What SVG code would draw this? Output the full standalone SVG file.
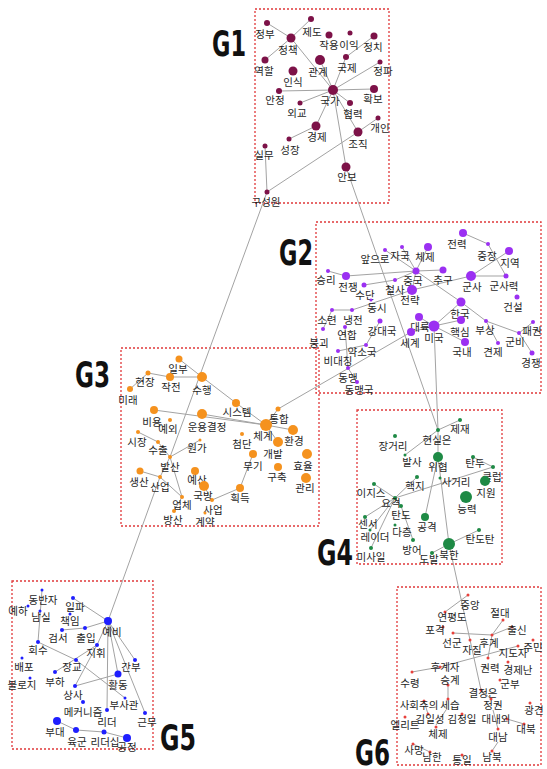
<svg xmlns="http://www.w3.org/2000/svg" width="547" height="769" viewBox="0 0 547 769">
<style>
text{font-family:"Noto Sans CJK KR","Noto Sans",sans-serif;font-size:10.5px;fill:#1e1e1e;text-anchor:middle}
.box{fill:none;stroke:#e0383a;stroke-width:1.3;stroke-dasharray:2 2}
.gl{font-family:"Liberation Sans Narrow","DejaVu Sans Condensed","Liberation Sans",sans-serif;font-stretch:condensed;font-weight:bold;font-size:35px;fill:#111;text-anchor:start}
#edges line{stroke:#a3a3a3;stroke-width:1}
.g1 circle{fill:#7d1248}.g2 circle{fill:#9b30f2}.g3 circle{fill:#f5921e}.g4 circle{fill:#1e8a45}.g5 circle{fill:#1f1fff}.g6 circle{fill:#e8413c}
</style>
<rect width="547" height="769" fill="#fff"/>
<g id="boxes">
<rect class="box" x="255" y="9" width="134" height="194"/>
<rect class="box" x="316" y="222" width="225" height="171"/>
<rect class="box" x="121" y="348" width="198" height="178"/>
<rect class="box" x="357" y="410" width="145" height="154"/>
<rect class="box" x="12" y="581" width="141" height="168"/>
<rect class="box" x="397" y="587" width="144" height="178"/>
</g>
<g id="group-labels">
<text class="gl" x="212" y="56" textLength="34" lengthAdjust="spacingAndGlyphs">G1</text>
<text class="gl" x="279" y="265" textLength="34" lengthAdjust="spacingAndGlyphs">G2</text>
<text class="gl" x="75" y="387" textLength="35" lengthAdjust="spacingAndGlyphs">G3</text>
<text class="gl" x="317" y="565" textLength="36" lengthAdjust="spacingAndGlyphs">G4</text>
<text class="gl" x="160" y="750" textLength="36" lengthAdjust="spacingAndGlyphs">G5</text>
<text class="gl" x="355" y="765" textLength="35" lengthAdjust="spacingAndGlyphs">G6</text>
</g>
<g id="edges">
<line x1="267" y1="23" x2="291" y2="38"/><line x1="311" y1="19" x2="291" y2="38"/><line x1="265" y1="60" x2="291" y2="38"/><line x1="291" y1="38" x2="333" y2="90"/><line x1="320" y1="60" x2="333" y2="90"/><line x1="346" y1="57" x2="333" y2="90"/><line x1="380" y1="62" x2="333" y2="90"/><line x1="374" y1="36" x2="346" y2="57"/><line x1="279" y1="91" x2="333" y2="90"/><line x1="333" y1="90" x2="374" y2="89"/><line x1="300" y1="103" x2="333" y2="90"/><line x1="350" y1="103" x2="333" y2="90"/><line x1="316" y1="126" x2="333" y2="90"/><line x1="289" y1="139" x2="316" y2="126"/><line x1="358" y1="132" x2="333" y2="90"/><line x1="358" y1="132" x2="378" y2="118"/><line x1="267" y1="192" x2="358" y2="132"/><line x1="265" y1="146" x2="267" y2="192"/><line x1="333" y1="90" x2="346" y2="167"/>
<line x1="346" y1="167" x2="438" y2="430"/><line x1="267" y1="192" x2="170" y2="457"/>
<line x1="463" y1="233" x2="488" y2="244"/><line x1="471" y1="276" x2="509" y2="251"/><line x1="488" y1="244" x2="506" y2="276"/><line x1="471" y1="276" x2="506" y2="276"/><line x1="416" y1="271" x2="402" y2="247"/><line x1="416" y1="271" x2="428" y2="247"/><line x1="416" y1="271" x2="385" y2="250"/><line x1="416" y1="271" x2="346" y2="276"/><line x1="416" y1="271" x2="461" y2="302"/><line x1="416" y1="271" x2="412" y2="290"/><line x1="416" y1="271" x2="443" y2="270"/><line x1="328" y1="271" x2="346" y2="276"/><line x1="364" y1="285" x2="395" y2="280"/><line x1="395" y1="280" x2="416" y2="271"/><line x1="412" y1="290" x2="471" y2="276"/><line x1="461" y1="302" x2="486" y2="321"/><line x1="486" y1="321" x2="519" y2="333"/><line x1="519" y1="333" x2="533" y2="322"/><line x1="519" y1="333" x2="532" y2="353"/><line x1="486" y1="321" x2="498" y2="343"/><line x1="434" y1="326" x2="419" y2="317"/><line x1="434" y1="326" x2="461" y2="302"/><line x1="434" y1="326" x2="461" y2="320"/><line x1="434" y1="326" x2="465" y2="342"/><line x1="434" y1="326" x2="411" y2="332"/><line x1="434" y1="326" x2="438" y2="430"/><line x1="352" y1="310" x2="412" y2="290"/><line x1="332" y1="310" x2="352" y2="310"/><line x1="332" y1="310" x2="323" y2="329"/><line x1="345" y1="327" x2="348" y2="368"/><line x1="348" y1="368" x2="357" y2="382"/><line x1="338" y1="351" x2="366" y2="345"/><line x1="366" y1="345" x2="380" y2="321"/>
<line x1="411" y1="332" x2="278" y2="409"/>
<line x1="148" y1="373" x2="170" y2="377"/><line x1="130" y1="389" x2="148" y2="373"/><line x1="170" y1="377" x2="202" y2="377"/><line x1="179" y1="359" x2="202" y2="377"/><line x1="202" y1="377" x2="236" y2="403"/><line x1="236" y1="403" x2="266" y2="425"/><line x1="154" y1="410" x2="266" y2="425"/><line x1="202" y1="414" x2="266" y2="425"/><line x1="278" y1="409" x2="266" y2="425"/><line x1="266" y1="425" x2="293" y2="430"/><line x1="266" y1="425" x2="278" y2="442"/><line x1="170" y1="457" x2="200" y2="440"/><line x1="138" y1="432" x2="158" y2="442"/><line x1="158" y1="442" x2="170" y2="457"/><line x1="170" y1="457" x2="160" y2="477"/><line x1="140" y1="471" x2="160" y2="477"/><line x1="160" y1="477" x2="182" y2="497"/><line x1="170" y1="457" x2="182" y2="497"/><line x1="182" y1="497" x2="174" y2="511"/><line x1="212" y1="500" x2="240" y2="488"/><line x1="240" y1="488" x2="253" y2="454"/><line x1="204" y1="486" x2="212" y2="500"/>
<line x1="160" y1="477" x2="108" y2="621"/>
<line x1="460" y1="420" x2="438" y2="430"/><line x1="438" y1="430" x2="438" y2="457"/><line x1="405" y1="455" x2="438" y2="430"/><line x1="438" y1="457" x2="449" y2="544"/><line x1="425" y1="517" x2="438" y2="457"/><line x1="395" y1="498" x2="493" y2="467"/><line x1="395" y1="498" x2="417" y2="477"/><line x1="395" y1="498" x2="374" y2="484"/><line x1="395" y1="498" x2="365" y2="517"/><line x1="395" y1="498" x2="371" y2="548"/><line x1="395" y1="498" x2="401" y2="506"/><line x1="395" y1="498" x2="370" y2="530"/><line x1="413" y1="540" x2="401" y2="506"/><line x1="473" y1="457" x2="493" y2="467"/><line x1="449" y1="544" x2="479" y2="530"/><line x1="449" y1="544" x2="432" y2="553"/>
<line x1="449" y1="544" x2="481" y2="690"/>
<line x1="108" y1="621" x2="73" y2="598"/><line x1="108" y1="621" x2="85" y2="628"/><line x1="62" y1="630" x2="85" y2="628"/><line x1="108" y1="621" x2="97" y2="645"/><line x1="108" y1="621" x2="135" y2="660"/><line x1="108" y1="621" x2="118" y2="674"/><line x1="108" y1="621" x2="107" y2="710"/><line x1="108" y1="621" x2="145" y2="713"/><line x1="97" y1="645" x2="55" y2="672"/><line x1="97" y1="645" x2="75" y2="686"/><line x1="42" y1="590" x2="38" y2="642"/><line x1="38" y1="642" x2="76" y2="660"/><line x1="76" y1="660" x2="125" y2="698"/><line x1="75" y1="686" x2="118" y2="674"/><line x1="57" y1="721" x2="76" y2="730"/><line x1="76" y1="730" x2="104" y2="732"/><line x1="104" y1="732" x2="127" y2="738"/>
<line x1="468" y1="595" x2="445" y2="612"/><line x1="453" y1="633" x2="492" y2="635"/><line x1="492" y1="635" x2="503" y2="620"/><line x1="492" y1="635" x2="512" y2="627"/><line x1="440" y1="667" x2="518" y2="646"/><line x1="412" y1="672" x2="440" y2="667"/><line x1="492" y1="635" x2="488" y2="658"/><line x1="448" y1="686" x2="448" y2="699"/><line x1="446" y1="710" x2="436" y2="725"/><line x1="481" y1="690" x2="491" y2="699"/><line x1="493" y1="710" x2="498" y2="729"/><line x1="498" y1="742" x2="492" y2="751"/><line x1="413" y1="744" x2="430" y2="752"/><line x1="507" y1="719" x2="524" y2="724"/><line x1="424" y1="701" x2="428" y2="714"/>
</g>
<g id="nodes-g1" class="g1">
<g id="a1"><circle cx="267" cy="23" r="3"/><text x="265" y="38">정부</text></g>
<g id="a2"><circle cx="311" cy="19" r="3"/><text x="312" y="36">제도</text></g>
<g id="a3"><circle cx="291" cy="38" r="4.5"/><text x="288" y="54">정책</text></g>
<g id="a4"><circle cx="329" cy="35" r="3.5"/><text x="329" y="49">작용</text></g>
<g id="a5"><circle cx="350" cy="33" r="2.5"/><text x="349" y="49">이익</text></g>
<g id="a6"><circle cx="374" cy="36" r="3.5"/><text x="373" y="51">정치</text></g>
<g id="a7"><circle cx="265" cy="60" r="3.5"/><text x="264" y="75">역할</text></g>
<g id="a8"><circle cx="320" cy="60" r="5"/><text x="318" y="76">관계</text></g>
<g id="a9"><circle cx="293" cy="71" r="4.5"/><text x="293" y="86">인식</text></g>
<g id="a10"><circle cx="346" cy="57" r="3"/><text x="347" y="72">국제</text></g>
<g id="a11"><circle cx="380" cy="62" r="2.5"/><text x="383" y="75">정파</text></g>
<g id="a12"><circle cx="279" cy="91" r="3"/><text x="275" y="104">안정</text></g>
<g id="a13"><circle cx="333" cy="90" r="5"/><text x="330" y="105">국가</text></g>
<g id="a14"><circle cx="374" cy="89" r="4"/><text x="373" y="103">확보</text></g>
<g id="a15"><circle cx="300" cy="103" r="2.5"/><text x="297" y="117">외교</text></g>
<g id="a16"><circle cx="350" cy="103" r="3"/><text x="353" y="118">협력</text></g>
<g id="a17"><circle cx="378" cy="118" r="2.5"/><text x="380" y="132">개인</text></g>
<g id="a18"><circle cx="358" cy="132" r="4.5"/><text x="358" y="148">조직</text></g>
<g id="a19"><circle cx="316" cy="126" r="4.5"/><text x="317" y="141">경제</text></g>
<g id="a20"><circle cx="289" cy="139" r="2.5"/><text x="290" y="154">성장</text></g>
<g id="a21"><circle cx="265" cy="146" r="2.5"/><text x="264" y="159">실무</text></g>
<g id="a22"><circle cx="346" cy="167" r="4.5"/><text x="347" y="181">안보</text></g>
<g id="a23"><circle cx="267" cy="192" r="2.5"/><text x="266" y="206">구성원</text></g>
</g>
<g id="nodes-g2" class="g2">
<g id="b1"><circle cx="463" cy="233" r="4"/><text x="457" y="248">전력</text></g>
<g id="b2"><circle cx="488" cy="244" r="2"/><text x="487" y="260">중장</text></g>
<g id="b3"><circle cx="509" cy="251" r="4"/><text x="510" y="267">지역</text></g>
<g id="b4"><circle cx="428" cy="247" r="4"/><text x="425" y="261">체제</text></g>
<g id="b5"><circle cx="402" cy="247" r="2"/><text x="400" y="260">자국</text></g>
<g id="b6"><circle cx="385" cy="250" r="2"/><text x="375" y="263">앞으로</text></g>
<g id="b7"><circle cx="416" cy="271" r="3.5"/><text x="413" y="285">중국</text></g>
<g id="b8"><circle cx="443" cy="270" r="3.5"/><text x="443" y="284">추구</text></g>
<g id="b9"><circle cx="471" cy="276" r="5"/><text x="472" y="291">군사</text></g>
<g id="b10"><circle cx="506" cy="276" r="2.5"/><text x="504" y="290">군사력</text></g>
<g id="b11"><circle cx="517" cy="297" r="2.5"/><text x="513" y="311">건설</text></g>
<g id="b12"><circle cx="346" cy="276" r="4"/><text x="348" y="291">전쟁</text></g>
<g id="b13"><circle cx="328" cy="271" r="2"/><text x="326" y="284">승리</text></g>
<g id="b14"><circle cx="364" cy="285" r="2.5"/><text x="365" y="299">수단</text></g>
<g id="b15"><circle cx="395" cy="280" r="2"/><text x="395" y="294">철사</text></g>
<g id="b16"><circle cx="412" cy="290" r="5"/><text x="410" y="304">전략</text></g>
<g id="b17"><circle cx="461" cy="302" r="4.5"/><text x="460" y="318">한국</text></g>
<g id="b18"><circle cx="332" cy="310" r="2"/><text x="327" y="324">소련</text></g>
<g id="b19"><circle cx="352" cy="310" r="2"/><text x="353" y="324">냉전</text></g>
<g id="b20"><circle cx="380" cy="321" r="2.5"/><text x="382" y="335">강대국</text></g>
<g id="b21"><circle cx="371" cy="300" r="1.5"/><text x="377" y="312">동시</text></g>
<g id="b22"><circle cx="419" cy="317" r="4"/><text x="420" y="331">대륙</text></g>
<g id="b23"><circle cx="434" cy="326" r="5.5"/><text x="434" y="342">미국</text></g>
<g id="b24"><circle cx="411" cy="332" r="4"/><text x="410" y="347">세계</text></g>
<g id="b25"><circle cx="461" cy="320" r="4"/><text x="460" y="336">핵심</text></g>
<g id="b26"><circle cx="465" cy="342" r="4"/><text x="462" y="356">국내</text></g>
<g id="b27"><circle cx="486" cy="321" r="2"/><text x="485" y="334">부상</text></g>
<g id="b28"><circle cx="498" cy="343" r="2"/><text x="493" y="356">견제</text></g>
<g id="b29"><circle cx="519" cy="333" r="2"/><text x="515" y="346">군비</text></g>
<g id="b30"><circle cx="533" cy="322" r="2"/><text x="532" y="335">패권</text></g>
<g id="b31"><circle cx="532" cy="353" r="2.5"/><text x="531" y="367">경쟁</text></g>
<g id="b32"><circle cx="345" cy="327" r="2"/><text x="347" y="339">연합</text></g>
<g id="b33"><circle cx="366" cy="345" r="2"/><text x="362" y="356">약소국</text></g>
<g id="b34"><circle cx="338" cy="351" r="2"/><text x="338" y="365">비대칭</text></g>
<g id="b35"><circle cx="348" cy="368" r="2"/><text x="348" y="382">동맹</text></g>
<g id="b36"><circle cx="357" cy="382" r="2"/><text x="359" y="394">동맹국</text></g>
<g id="b37"><circle cx="323" cy="329" r="2"/><text x="319" y="347">붕괴</text></g>
</g>
<g id="nodes-g3" class="g3">
<g id="c1"><circle cx="179" cy="359" r="3.5"/><text x="178" y="373">일부</text></g>
<g id="c2"><circle cx="148" cy="373" r="2.5"/><text x="145" y="386">현장</text></g>
<g id="c3"><circle cx="170" cy="377" r="4"/><text x="171" y="391">작전</text></g>
<g id="c4"><circle cx="202" cy="377" r="5"/><text x="202" y="394">수행</text></g>
<g id="c5"><circle cx="130" cy="389" r="3"/><text x="128" y="404">미래</text></g>
<g id="c6"><circle cx="236" cy="403" r="4"/><text x="237" y="416">시스템</text></g>
<g id="c7"><circle cx="154" cy="410" r="4"/><text x="152" y="426">비용</text></g>
<g id="c8"><circle cx="202" cy="414" r="5"/><text x="207" y="431">운용결정</text></g>
<g id="c9"><circle cx="170" cy="420" r="2"/><text x="168" y="433">예외</text></g>
<g id="c10"><circle cx="278" cy="409" r="2.5"/><text x="279" y="423">통합</text></g>
<g id="c11"><circle cx="266" cy="425" r="6"/><text x="263" y="440">체계</text></g>
<g id="c12"><circle cx="293" cy="430" r="5"/><text x="294" y="445">환경</text></g>
<g id="c13"><circle cx="242" cy="434" r="2"/><text x="242" y="448">첨단</text></g>
<g id="c14"><circle cx="278" cy="442" r="5"/><text x="273" y="458">개발</text></g>
<g id="c15"><circle cx="307" cy="454" r="5"/><text x="303" y="470">효율</text></g>
<g id="c16"><circle cx="253" cy="454" r="4"/><text x="253" y="470">무기</text></g>
<g id="c17"><circle cx="278" cy="467" r="4"/><text x="277" y="481">구축</text></g>
<g id="c18"><circle cx="306" cy="478" r="5"/><text x="305" y="492">관리</text></g>
<g id="c19"><circle cx="240" cy="488" r="4"/><text x="240" y="502">획득</text></g>
<g id="c20"><circle cx="195" cy="471" r="4"/><text x="197" y="484">예산</text></g>
<g id="c21"><circle cx="204" cy="486" r="5"/><text x="203" y="500">국방</text></g>
<g id="c22"><circle cx="212" cy="500" r="2"/><text x="213" y="514">사업</text></g>
<g id="c23"><circle cx="182" cy="497" r="2"/><text x="182" y="509">업체</text></g>
<g id="c24"><circle cx="205" cy="513" r="1.5"/><text x="205" y="526">계약</text></g>
<g id="c25"><circle cx="174" cy="511" r="2"/><text x="173" y="524">방산</text></g>
<g id="c26"><circle cx="160" cy="477" r="2"/><text x="160" y="491">산업</text></g>
<g id="c27"><circle cx="140" cy="471" r="3.5"/><text x="139" y="486">생산</text></g>
<g id="c28"><circle cx="170" cy="457" r="2"/><text x="170" y="471">발산</text></g>
<g id="c29"><circle cx="200" cy="440" r="1.5"/><text x="197" y="452">원가</text></g>
<g id="c30"><circle cx="158" cy="442" r="2"/><text x="158" y="454">수출</text></g>
<g id="c31"><circle cx="138" cy="432" r="2"/><text x="137" y="446">시장</text></g>
</g>
<g id="nodes-g4" class="g4">
<g id="d1"><circle cx="460" cy="420" r="2"/><text x="460" y="433">제재</text></g>
<g id="d2"><circle cx="438" cy="430" r="2"/><text x="437" y="444">현실은</text></g>
<g id="d3"><circle cx="395" cy="436" r="2"/><text x="393" y="450">장거리</text></g>
<g id="d4"><circle cx="438" cy="457" r="5"/><text x="438" y="471">위협</text></g>
<g id="d5"><circle cx="405" cy="455" r="1.5"/><text x="412" y="466">발사</text></g>
<g id="d6"><circle cx="473" cy="457" r="2"/><text x="475" y="467">탄두</text></g>
<g id="d7"><circle cx="493" cy="467" r="2"/><text x="492" y="481">클럽</text></g>
<g id="d8"><circle cx="485" cy="481" r="5"/><text x="486" y="497">지원</text></g>
<g id="d9"><circle cx="440" cy="478" r="1.5"/><text x="456" y="486">사거리</text></g>
<g id="d10"><circle cx="417" cy="477" r="2"/><text x="415" y="490">핵지</text></g>
<g id="d11"><circle cx="466" cy="497" r="6"/><text x="467" y="513">능력</text></g>
<g id="d12"><circle cx="374" cy="484" r="2"/><text x="371" y="497">이지스</text></g>
<g id="d13"><circle cx="395" cy="498" r="2"/><text x="391" y="507">요격</text></g>
<g id="d14"><circle cx="401" cy="506" r="2"/><text x="401" y="519">탄도</text></g>
<g id="d15"><circle cx="425" cy="517" r="4"/><text x="427" y="531">공격</text></g>
<g id="d16"><circle cx="365" cy="517" r="2"/><text x="368" y="528">센서</text></g>
<g id="d17"><circle cx="370" cy="530" r="1.5"/><text x="375" y="541">레이더</text></g>
<g id="d18"><circle cx="395" cy="525" r="1.5"/><text x="402" y="536">다층</text></g>
<g id="d19"><circle cx="413" cy="540" r="2"/><text x="412" y="554">방어</text></g>
<g id="d20"><circle cx="371" cy="548" r="2"/><text x="371" y="561">미사일</text></g>
<g id="d21"><circle cx="449" cy="544" r="6"/><text x="449" y="559">북한</text></g>
<g id="d22"><circle cx="432" cy="553" r="2"/><text x="429" y="563">도발</text></g>
<g id="d23"><circle cx="479" cy="530" r="2"/><text x="480" y="543">탄도탄</text></g>
</g>
<g id="nodes-g5" class="g5">
<g id="e1"><circle cx="42" cy="590" r="1.5"/><text x="43" y="604">동반자</text></g>
<g id="e2"><circle cx="73" cy="598" r="2"/><text x="75" y="611">일파</text></g>
<g id="e3"><circle cx="28" cy="606" r="1.5"/><text x="18" y="615">예하</text></g>
<g id="e4"><circle cx="40" cy="611" r="1.5"/><text x="41" y="621">남실</text></g>
<g id="e5"><circle cx="70" cy="614" r="1.5"/><text x="70" y="625">책임</text></g>
<g id="e6"><circle cx="108" cy="621" r="4"/><text x="112" y="636">예비</text></g>
<g id="e7"><circle cx="62" cy="630" r="2"/><text x="58" y="642">검서</text></g>
<g id="e8"><circle cx="85" cy="628" r="2"/><text x="86" y="642">출입</text></g>
<g id="e9"><circle cx="38" cy="642" r="2"/><text x="38" y="654">회수</text></g>
<g id="e10"><circle cx="97" cy="645" r="2"/><text x="96" y="657">지휘</text></g>
<g id="e11"><circle cx="76" cy="660" r="2"/><text x="72" y="671">장교</text></g>
<g id="e12"><circle cx="135" cy="660" r="2"/><text x="131" y="671">간부</text></g>
<g id="e13"><circle cx="22" cy="658" r="1.5"/><text x="24" y="671">배포</text></g>
<g id="e14"><circle cx="55" cy="672" r="2"/><text x="55" y="686">부하</text></g>
<g id="e15"><circle cx="30" cy="678" r="1.5"/><text x="22" y="689">블로지</text></g>
<g id="e16"><circle cx="118" cy="674" r="3.5"/><text x="118" y="689">활동</text></g>
<g id="e17"><circle cx="75" cy="686" r="2"/><text x="73" y="699">상사</text></g>
<g id="e18"><circle cx="83" cy="702" r="2"/><text x="83" y="716">메커니즘</text></g>
<g id="e19"><circle cx="125" cy="698" r="1.5"/><text x="124" y="709">부사관</text></g>
<g id="e20"><circle cx="107" cy="710" r="2"/><text x="107" y="726">리더</text></g>
<g id="e21"><circle cx="145" cy="713" r="2"/><text x="147" y="726">근무</text></g>
<g id="e22"><circle cx="57" cy="721" r="4"/><text x="55" y="736">부대</text></g>
<g id="e23"><circle cx="76" cy="730" r="3"/><text x="77" y="746">육군</text></g>
<g id="e24"><circle cx="104" cy="732" r="2.5"/><text x="105" y="746">리더십</text></g>
<g id="e25"><circle cx="127" cy="738" r="4"/><text x="127" y="751">공정</text></g>
</g>
<g id="nodes-g6" class="g6">
<g id="f1"><circle cx="468" cy="595" r="1.5"/><text x="470" y="609">중앙</text></g>
<g id="f2"><circle cx="445" cy="612" r="1.5"/><text x="452" y="621">연평도</text></g>
<g id="f3"><circle cx="503" cy="620" r="1.5"/><text x="500" y="617">절대</text></g>
<g id="f4"><circle cx="512" cy="627" r="1.5"/><text x="517" y="634">출신</text></g>
<g id="f5"><circle cx="443" cy="627" r="1.5"/><text x="435" y="634">포격</text></g>
<g id="f6"><circle cx="453" cy="633" r="1.5"/><text x="452" y="647">선군</text></g>
<g id="f7"><circle cx="470" cy="640" r="1.5"/><text x="472" y="654">자질</text></g>
<g id="f8"><circle cx="492" cy="635" r="1.5"/><text x="489" y="647">후계</text></g>
<g id="f9"><circle cx="518" cy="646" r="1.5"/><text x="513" y="657">지도자</text></g>
<g id="f10"><circle cx="533" cy="640" r="1.5"/><text x="533" y="651">주민</text></g>
<g id="f11"><circle cx="440" cy="667" r="1.5"/><text x="445" y="671">후계자</text></g>
<g id="f12"><circle cx="488" cy="658" r="1.5"/><text x="490" y="672">권력</text></g>
<g id="f13"><circle cx="508" cy="662" r="1.5"/><text x="518" y="674">경제난</text></g>
<g id="f14"><circle cx="412" cy="672" r="1.5"/><text x="410" y="687">수령</text></g>
<g id="f15"><circle cx="448" cy="685" r="1.5"/><text x="450" y="684">승계</text></g>
<g id="f16"><circle cx="500" cy="680" r="1.5"/><text x="510" y="688">군부</text></g>
<g id="f17"><circle cx="481" cy="690" r="1.5"/><text x="483" y="697">결정은</text></g>
<g id="f18"><circle cx="448" cy="699" r="1.5"/><text x="450" y="709">세습</text></g>
<g id="f19"><circle cx="491" cy="699" r="1.5"/><text x="493" y="709">정권</text></g>
<g id="f20"><circle cx="424" cy="701" r="1.5"/><text x="419" y="709">사회주의</text></g>
<g id="f21"><circle cx="530" cy="703" r="1.5"/><text x="534" y="714">광견</text></g>
<g id="f22"><circle cx="405" cy="717" r="1.5"/><text x="405" y="729">엘리트</text></g>
<g id="f23"><circle cx="428" cy="714" r="1.5"/><text x="430" y="723">김일성</text></g>
<g id="f24"><circle cx="462" cy="714" r="1.5"/><text x="462" y="723">김정일</text></g>
<g id="f25"><circle cx="507" cy="719" r="1.5"/><text x="496" y="723">대내외</text></g>
<g id="f26"><circle cx="436" cy="727" r="1.5"/><text x="438" y="738">체제</text></g>
<g id="f27"><circle cx="498" cy="729" r="1.5"/><text x="498" y="741">대남</text></g>
<g id="f28"><circle cx="524" cy="724" r="1.5"/><text x="526" y="733">대북</text></g>
<g id="f29"><circle cx="413" cy="744" r="1.5"/><text x="414" y="754">사망</text></g>
<g id="f30"><circle cx="430" cy="752" r="1.5"/><text x="432" y="761">남한</text></g>
<g id="f31"><circle cx="492" cy="751" r="1.5"/><text x="492" y="761">남북</text></g>
<g id="f32"><circle cx="462" cy="755" r="1.5"/><text x="462" y="764">통일</text></g>
</g>
</svg>
